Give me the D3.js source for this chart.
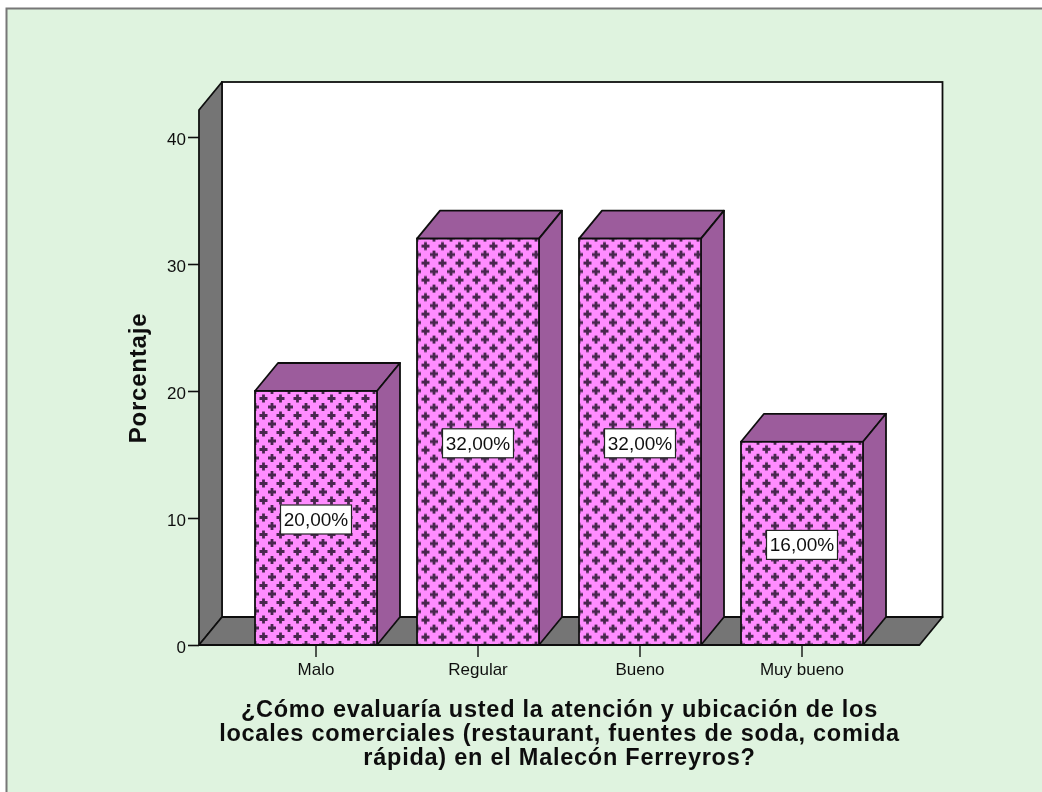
<!DOCTYPE html>
<html><head><meta charset="utf-8">
<script src="https://cdn.jsdelivr.net/npm/d3@7"></script>
<style>html,body{margin:0;padding:0;background:#fff;overflow:hidden}svg{display:block}text{font-family:"Liberation Sans",Arial,sans-serif;fill:#111}</style>
</head><body><svg id="c" width="1042" height="792"></svg>
<script>
const categories=["Malo","Regular","Bueno","Muy bueno"];
const values=[20,32,32,16];
const valueLabels=["20,00%","32,00%","32,00%","16,00%"];
const yTicks=[0,10,20,30,40];
const xTitle=["¿Cómo evaluaría usted la atención y ubicación de los","locales comerciales (restaurant, fuentes de soda, comida","rápida) en el Malecón Ferreyros?"];
const yTitle="Porcentaje";

const root=d3.select("#c");
const dx=23,dy=-28;
const y=d3.scaleLinear().domain([0,40]).range([645,137]);
const x=d3.scaleBand().domain(categories).range([235,883]).paddingInner(40/162).paddingOuter(20/162);
const plotL=199,plotR=919.5;
const line=d3.line();
const ink="#111";

const defs=root.append("defs");
defs.append("filter").attr("id","soft").attr("x",0).attr("y",0).attr("width",1).attr("height",1)
  .append("feGaussianBlur").attr("stdDeviation",0.45);
const svg=root.append("g").attr("filter","url(#soft)");

// background
svg.append("rect").attr("x",0).attr("y",0).attr("width",1042).attr("height",792).attr("fill","#fff");
svg.append("rect").attr("x",6.5).attr("y",8.5).attr("width",1060).attr("height",800).attr("fill","#dff3df").attr("stroke","#777").attr("stroke-width",2);

// one hatch pattern per bar, anchored at the bar's top-left corner
const crossCentres=[[8.5,7.5],[17,16],[0,16],[17,-1],[0,-1]];
categories.forEach((c,i)=>{
  const p=defs.append("pattern").attr("id","cross"+i).attr("patternUnits","userSpaceOnUse").attr("width",17).attr("height",17).attr("x",x(c)).attr("y",y(values[i]));
  p.append("rect").attr("width",17).attr("height",17).attr("fill","#ff8cff");
  p.selectAll("path").data(crossCentres).join("path")
   .attr("d",d=>`M${d[0]-4} ${d[1]-1.4}h2.6v-2.6h2.8v2.6h2.6v2.8h-2.6v2.6h-2.8v-2.6h-2.6z`).attr("fill","#4a2850");
});

// back wall, left wall, floor
const bT=82,bB=y(0)+dy,bL=plotL+dx,bR=plotR+dx;
svg.append("rect").attr("x",bL).attr("y",bT).attr("width",bR-bL).attr("height",bB-bT).attr("fill","#fff").attr("stroke",ink).attr("stroke-width",1.8);
svg.append("path").attr("d",line([[plotL,y(0)],[plotL,bT-dy],[bL,bT],[bL,bB]])+"Z").attr("fill","#757575").attr("stroke",ink).attr("stroke-width",1.8).attr("stroke-linejoin","round");
svg.append("path").attr("d",line([[plotL,y(0)],[bL,bB],[bR,bB],[plotR,y(0)]])+"Z").attr("fill","#757575").attr("stroke",ink).attr("stroke-width",1.8).attr("stroke-linejoin","round");

// bars
const bars=svg.selectAll("g.bar").data(categories.map((c,i)=>({c,i,v:values[i],l:valueLabels[i]}))).join("g").attr("class","bar");
bars.each(function(d){
  const g=d3.select(this),l=x(d.c),r=l+x.bandwidth(),t=y(d.v),b=y(0);
  g.append("path").attr("d",line([[l,t],[l+dx,t+dy],[r+dx,t+dy],[r,t]])+"Z").attr("fill","#9c5c9c").attr("stroke",ink).attr("stroke-width",1.8).attr("stroke-linejoin","round");
  g.append("path").attr("d",line([[r,t],[r+dx,t+dy],[r+dx,b+dy],[r,b]])+"Z").attr("fill","#9c5c9c").attr("stroke",ink).attr("stroke-width",1.8).attr("stroke-linejoin","round");
  g.append("rect").attr("x",l).attr("y",t).attr("width",r-l).attr("height",b-t).attr("fill",`url(#cross${d.i})`).attr("stroke",ink).attr("stroke-width",1.8);
});
// value labels
bars.each(function(d){
  const g=d3.select(this),cx=x(d.c)+x.bandwidth()/2,cy=y(d.v/2)+1.5;
  g.append("rect").attr("x",cx-35.5).attr("y",cy-14.5).attr("width",71).attr("height",29).attr("fill","#fff").attr("stroke","#222").attr("stroke-width",1.2);
  g.append("text").attr("x",cx).attr("y",cy+6.5).attr("text-anchor","middle").attr("font-size",19).text(d.l);
});

// axes
const yAxis=d3.axisLeft(y).tickValues(yTicks).tickSize(11).tickPadding(2);
const yg=svg.append("g").attr("transform",`translate(${plotL},0)`).call(yAxis);
yg.select(".domain").remove();
yg.selectAll("line").attr("stroke",ink).attr("stroke-width",1.6);
yg.selectAll("text").attr("font-size",17).attr("dy","0.46em").attr("fill","#222").style("font-family",'"Liberation Sans"');

const xAxis=d3.axisBottom(x).tickSize(12).tickPadding(6);
const xg=svg.append("g").attr("transform",`translate(0,${y(0)})`).call(xAxis);
xg.select(".domain").remove();
xg.selectAll("line").attr("stroke",ink).attr("stroke-width",1.4);
xg.selectAll("text").attr("font-size",17).attr("fill","#222").style("font-family",'"Liberation Sans"');
svg.append("line").attr("x1",plotL).attr("x2",plotR).attr("y1",y(0)).attr("y2",y(0)).attr("stroke",ink).attr("stroke-width",1.8);

// titles
svg.append("text").attr("transform","translate(146,378) rotate(-90)").attr("text-anchor","middle").attr("font-size",24).attr("font-weight","bold").attr("letter-spacing",0.8).text(yTitle);
svg.selectAll("text.xt").data(xTitle).join("text").attr("class","xt").attr("x",559.5).attr("y",(d,i)=>717+i*24).attr("text-anchor","middle").attr("font-size",23.5).attr("font-weight","bold").attr("letter-spacing",0.75).text(d=>d);
</script></body></html>
